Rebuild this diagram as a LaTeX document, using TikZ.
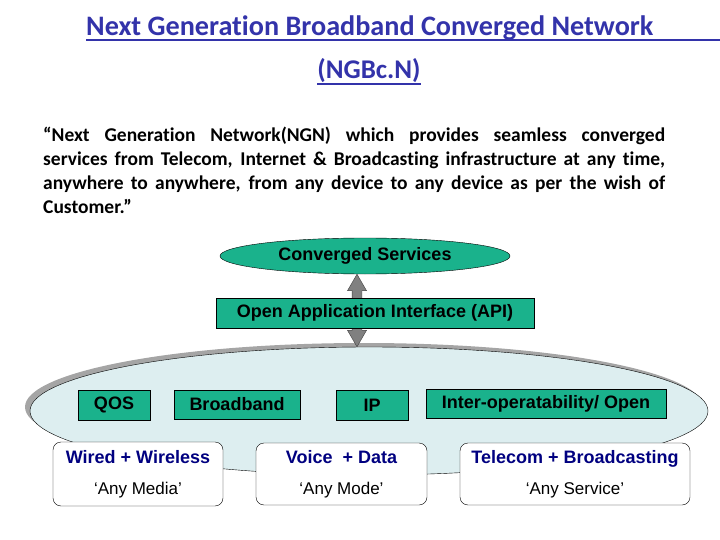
\documentclass[tikz,border=0pt]{standalone}
\usepackage{fontspec}
\setmainfont{Carlito}[Ligatures=CommonOff]
\newfontfamily\arialfont{Liberation Sans}
\usetikzlibrary{shapes.geometric,shapes.arrows,calc}
\definecolor{ngblue}{RGB}{51,51,170}
\definecolor{servgreen}{RGB}{26,178,140}
\definecolor{cloudblue}{RGB}{221,238,240}
\definecolor{navyblue}{RGB}{0,0,128}
\definecolor{shadowgray}{RGB}{165,165,165}

\tikzset{
  greenbox/.style={draw, fill=servgreen, inner sep=0pt, font=\arialfont\bfseries\fontsize{18}{21}\selectfont},
  mediabox/.style={draw, fill=white, rounded corners=8pt, inner sep=0pt, align=center, font=\arialfont\fontsize{17}{31}\selectfont},
  fatarrow/.style={double arrow, draw=black!75, fill=gray, inner xsep=0pt, inner ysep=4.75pt, rotate=90,
    minimum width=18pt, double arrow head extend=4.5pt, double arrow tip angle=60},
}

\begin{document}
\begin{tikzpicture}[x=1pt,y=-1pt]
	\useasboundingbox (0,0) rectangle (720,540);
	% heading
	\node[anchor=base west, inner sep=0pt, text=ngblue, font=\bfseries\fontsize{28.2}{30}\selectfont] (title) at (86,36) {Next Generation Broadband Converged Network};
	\coordinate (tend) at (720,40);
	\draw[ngblue, line width=1.6pt] ([yshift=-4pt]title.base west) -- (tend);
	\node[anchor=base, inner sep=0pt, text=ngblue, font=\bfseries\fontsize{27}{30}\selectfont] (abbr) at (369,79) {(NGBc.N)};
	\draw[ngblue, line width=1.6pt] ([yshift=-5pt]abbr.base west) -- ([yshift=-5pt]abbr.base east);
	\node[anchor=north west, inner sep=0pt, text width=622pt, align=justify, text=black, font=\bfseries\fontsize{19.5}{24}\selectfont] (para) at (43,127)
	  {“Next Generation Network(NGN) which provides seamless converged\linebreak services from Telecom, Internet \& Broadcasting infrastructure at any time,\linebreak anywhere to anywhere, from any device to any device as per the wish of\linebreak Customer.”};

	% layers
	\node[ellipse, draw, fill=servgreen, minimum width=290pt, minimum height=36pt, inner sep=0pt, font=\arialfont\bfseries\fontsize{18}{21}\selectfont] (cs) at (365,256) {Converged Services};
	\node[ellipse, fill=shadowgray, minimum width=678pt, minimum height=128pt] (coreshadow) at (364,407) {};
	\node[ellipse, draw, fill=cloudblue, minimum width=678pt, minimum height=128pt] (core) at (369,411) {};

	% one arrow, running behind the API box
	\coordinate (ax) at (357,0);
	\path let \p1=(ax|-cs.south), \p2=(ax|-core.north) in
	  node[fatarrow, minimum height={\y1-\y2}] (link) at ($(\p1)!0.5!(\p2)$) {};
	\node[greenbox, minimum width=318pt, minimum height=30pt] (api) at (375,313) {Open Application Interface (API)};

	\node[greenbox, minimum width=72pt, minimum height=30pt] (qos) at (114,405) {QOS};
	\node[greenbox, minimum width=126pt, minimum height=29pt] (bband) at (237,404.5) {Broadband};
	\node[greenbox, minimum width=72pt, minimum height=30pt] (ip) at (372,405) {IP};
	\node[greenbox, minimum width=240pt, minimum height=29pt] (interop) at (546,403.5) {Inter-operatability/ Open};

	\node[mediabox, minimum width=170pt, minimum height=64pt] (media) at (138,474) {{\bfseries\fontsize{18}{31}\selectfont\color{navyblue}Wired + Wireless}\\‘Any Media’};
	\node[mediabox, minimum width=171pt, minimum height=62pt] (mode) at (341.5,474) {{\bfseries\fontsize{18}{31}\selectfont\color{navyblue}Voice \ + Data}\\‘Any Mode’};
	\node[mediabox, minimum width=230pt, minimum height=62pt] (service) at (575,474) {{\bfseries\fontsize{18}{31}\selectfont\color{navyblue}Telecom + Broadcasting}\\‘Any Service’};
\end{tikzpicture}
\end{document}
